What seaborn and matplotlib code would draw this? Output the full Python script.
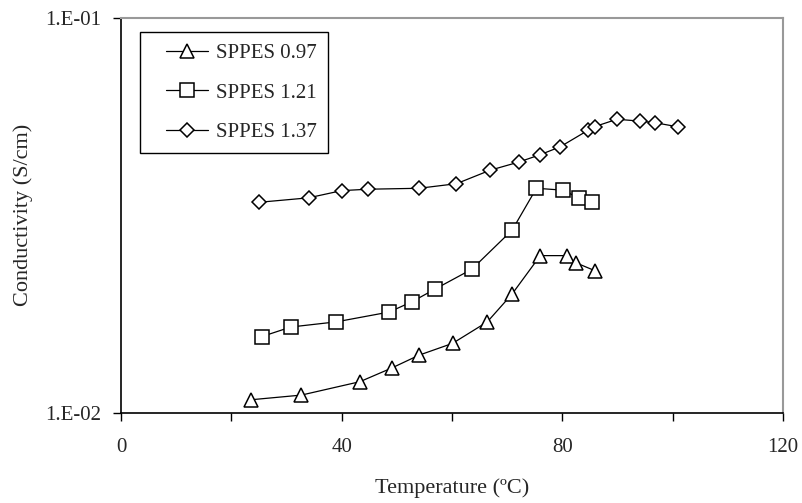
import numpy as np
import pandas as pd
import matplotlib
matplotlib.use('Agg')
import matplotlib.pyplot as plt
from matplotlib.ticker import FixedLocator, NullLocator, FixedFormatter
from matplotlib.legend_handler import HandlerLine2D
from matplotlib.lines import Line2D
import seaborn as sns

# Data
temp_097 = [23.5, 32.7, 43.3, 49.1, 54.0, 60.1, 66.4, 70.9, 76.0, 80.8, 82.4, 85.9]
cond_097 = [0.0108, 0.0111, 0.0120, 0.0130, 0.0140, 0.0150, 0.0170, 0.0200,
            0.0250, 0.0250, 0.0240, 0.0229]

temp_121 = [25.5, 30.8, 39.0, 48.6, 52.7, 57.0, 63.6, 70.9, 75.3, 80.1, 83.1, 85.4]
cond_121 = [0.0156, 0.0165, 0.0170, 0.0180, 0.0191, 0.0206, 0.0231, 0.0290,
            0.0370, 0.0366, 0.0349, 0.0341]

temp_137 = [25.0, 34.0, 40.0, 44.8, 54.0, 60.8, 66.9, 72.1, 76.0, 79.6, 84.7,
            85.9, 89.9, 94.1, 96.8, 101.0]
cond_137 = [0.0341, 0.0350, 0.0365, 0.0368, 0.0370, 0.0380, 0.0411, 0.0431,
            0.0450, 0.0471, 0.0519, 0.0530, 0.0553, 0.0547, 0.0542, 0.0529]

series = [
    ('SPPES 0.97', temp_097, cond_097, '^', 10),
    ('SPPES 1.21', temp_121, cond_121, 's', 10),
    ('SPPES 1.37', temp_137, cond_137, 'D', 7),
]

sns.set_style('ticks')
plt.rcParams['font.family'] = ['Liberation Serif', 'DejaVu Serif']
plt.rcParams['font.size'] = 15

fig = plt.figure(figsize=(8.03, 5.03), dpi=100)
ax = fig.add_axes([0.1507, 0.1789, 0.8244, 0.7863])

for name, t, c, m, ms in series:
    df = pd.DataFrame({'Temperature': t, 'Conductivity': c})
    sns.lineplot(data=df, x='Temperature', y='Conductivity', ax=ax, label=name,
                 color='black', linewidth=0.9, marker=m, markersize=ms,
                 markerfacecolor='white', markeredgecolor='black',
                 markeredgewidth=1.1, sort=False)

ax.set_yscale('log')
ax.set_ylim(0.01, 0.1)
ax.set_xlim(0, 120)

ax.yaxis.set_major_locator(FixedLocator([0.01, 0.1]))
ax.yaxis.set_major_formatter(FixedFormatter(['1.E-02', '1.E-01']))
ax.yaxis.set_minor_locator(NullLocator())
ax.xaxis.set_major_locator(FixedLocator([0, 40, 80, 120]))
ax.xaxis.set_minor_locator(FixedLocator([20, 60, 100]))

ax.tick_params(axis='both', which='both', direction='out', length=6, width=1,
               color='black', labelsize=15)
ax.tick_params(axis='x', which='major', pad=12)
ax.tick_params(axis='y', which='major', pad=8)

for side in ['left', 'bottom']:
    ax.spines[side].set_color('black')
    ax.spines[side].set_linewidth(1.2)
for side in ['top', 'right']:
    ax.spines[side].set_visible(True)
    ax.spines[side].set_color('#999999')
    ax.spines[side].set_linewidth(1.5)

ax.set_xlabel('Temperature (ºC)', fontsize=16, labelpad=15)
ax.set_ylabel('Conductivity (S/cm)', fontsize=16, labelpad=9)

# legend: shift the handle right inside the box like the Excel original
leg = ax.legend(loc='upper left', bbox_to_anchor=(0.0287, 0.963),
                borderaxespad=0, fancybox=False, framealpha=1,
                edgecolor='black', fontsize=15, handlelength=2.7,
                labelspacing=0.95, borderpad=0.55, handletextpad=0.4,
                handler_map={Line2D: HandlerLine2D(xpad=0.7)})
leg.get_frame().set_linewidth(1.0)

fig.savefig('out.png', dpi=100)
